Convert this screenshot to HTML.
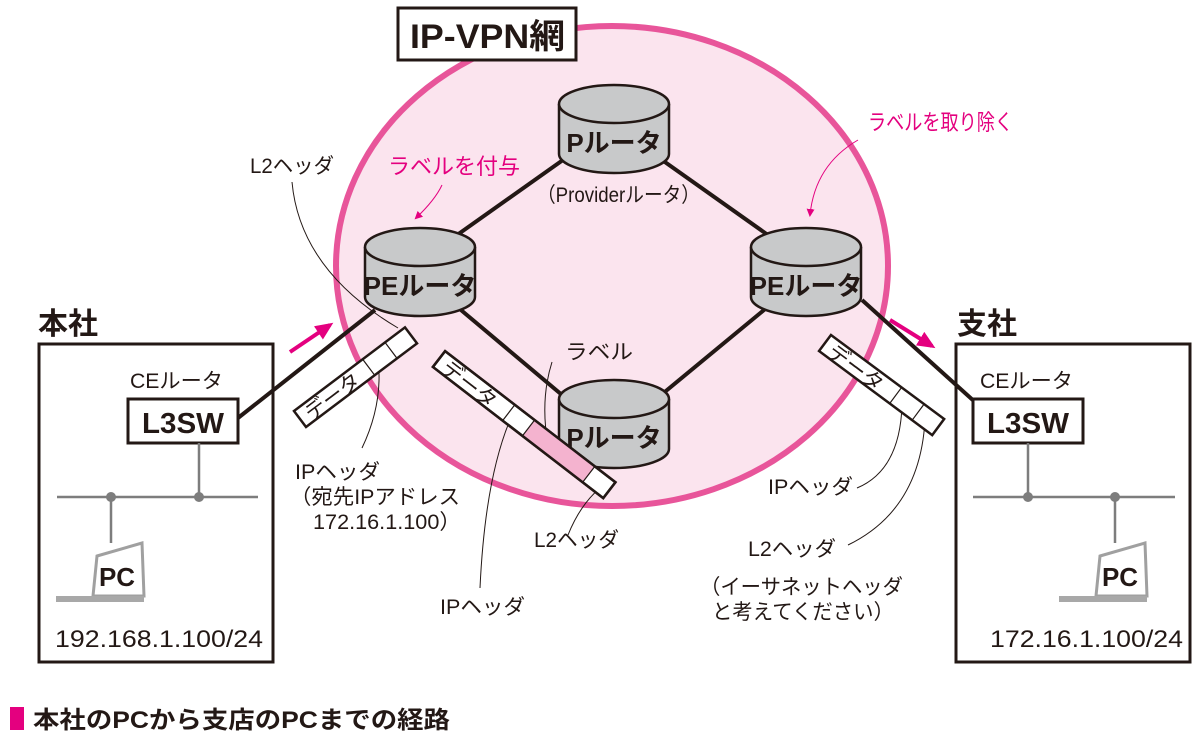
<!DOCTYPE html>
<html><head><meta charset="utf-8"><style>
html,body{margin:0;padding:0;background:#fff}
svg{display:block}
text{font-family:"Liberation Sans","Noto Sans CJK JP",sans-serif;fill:#231815}
.b{font-weight:bold}
</style></head><body>
<svg width="1200" height="743" viewBox="0 0 1200 743" xmlns="http://www.w3.org/2000/svg">
<defs>
<marker id="pa" markerWidth="8" markerHeight="8" refX="6" refY="4" orient="auto" markerUnits="userSpaceOnUse"><path d="M0,0 L8,4 L0,8 Z" fill="#e4007f"/></marker>
<marker id="pb" markerWidth="20" markerHeight="20" refX="14" refY="10" orient="auto" markerUnits="userSpaceOnUse"><path d="M0,2 L18,10 L0,18 Z" fill="#e4007f"/></marker>
<g id="cyl">
<path d="M-55,0 L-55,50 A55,19 0 0 0 55,50 L55,0" fill="#c8c9ca" stroke="#231815" stroke-width="2.5"/>
<ellipse cx="0" cy="0" rx="55" ry="19" fill="#c8c9ca" stroke="#231815" stroke-width="2.5"/>
</g>
</defs>
<ellipse cx="612" cy="266" rx="276" ry="240" fill="#fbe4ee" stroke="#e8559a" stroke-width="6"/>
<rect x="398" y="8" width="178" height="52" fill="#fff" stroke="#231815" stroke-width="3"/>
<text x="410" y="48" font-size="34" class="b" textLength="155" lengthAdjust="spacingAndGlyphs">IP-VPN網</text>

<g stroke="#231815" stroke-width="4">
<line x1="450" y1="240" x2="570" y2="155"/>
<line x1="655" y1="155" x2="775" y2="240"/>
<line x1="455" y1="305" x2="568" y2="400"/>
<line x1="655" y1="400" x2="770" y2="305"/>
<line x1="238" y1="418" x2="375" y2="310"/>
<line x1="862" y1="300" x2="975" y2="402"/>
</g>

<use href="#cyl" x="614" y="104"/>
<use href="#cyl" x="420" y="247"/>
<use href="#cyl" x="806" y="247"/>
<use href="#cyl" x="614" y="399"/>
<text x="614" y="152" font-size="26" class="b" text-anchor="middle">Pルータ</text>
<text x="420" y="295" font-size="26" class="b" text-anchor="middle">PEルータ</text>
<text x="806" y="295" font-size="26" class="b" text-anchor="middle">PEルータ</text>
<text x="614" y="447" font-size="26" class="b" text-anchor="middle">Pルータ</text>
<text x="537" y="202" font-size="21" textLength="163" lengthAdjust="spacingAndGlyphs">（Providerルータ）</text>

<text x="388" y="174" font-size="22" style="fill:#e4007f" textLength="132" lengthAdjust="spacingAndGlyphs">ラベルを付与</text>
<path d="M442,185 Q435,200 416,218" fill="none" stroke="#e4007f" stroke-width="1" marker-end="url(#pa)"/>
<text x="868" y="130" font-size="22" style="fill:#e4007f" textLength="145" lengthAdjust="spacingAndGlyphs">ラベルを取り除く</text>
<path d="M858,140 Q815,165 810,215" fill="none" stroke="#e4007f" stroke-width="1" marker-end="url(#pa)"/>

<line x1="290" y1="352" x2="330" y2="325" stroke="#e4007f" stroke-width="4" marker-end="url(#pb)"/>
<line x1="890" y1="320" x2="932" y2="346" stroke="#e4007f" stroke-width="4" marker-end="url(#pb)"/>

<g fill="none" stroke="#231815" stroke-width="1">
<path d="M292,182 Q300,270 398,328"/>
<path d="M362,448 Q385,400 377,352"/>
<path d="M552,362 Q540,400 548,445"/>
<path d="M480,588 Q485,480 510,420"/>
<path d="M568,535 Q580,505 600,488"/>
<path d="M857,488 Q900,470 902,405"/>
<path d="M848,545 Q920,510 925,420"/>
</g>

<g transform="translate(300,419) rotate(-37)">
<rect x="0" y="-10" width="139" height="20" fill="#fff" stroke="#231815" stroke-width="2.5"/>
<line x1="86" y1="-10" x2="86" y2="10" stroke="#231815" stroke-width="1.2"/>
<line x1="114" y1="-10" x2="114" y2="10" stroke="#231815" stroke-width="1.2"/>
<text x="8" y="9" font-size="21">データ</text>
</g>
<g transform="translate(439,359) rotate(37.6)">
<rect x="0" y="-10" width="215" height="20" fill="#fff" stroke="#231815" stroke-width="2.5"/>
<rect x="113" y="-10" width="76" height="20" fill="#f4b3cf"/>
<rect x="0" y="-10" width="215" height="20" fill="none" stroke="#231815" stroke-width="2.5"/>
<line x1="88" y1="-10" x2="88" y2="10" stroke="#231815" stroke-width="1.2"/>
<line x1="113" y1="-10" x2="113" y2="10" stroke="#231815" stroke-width="1.2"/>
<line x1="189" y1="-10" x2="189" y2="10" stroke="#231815" stroke-width="1.2"/>
<text x="8" y="9" font-size="21">データ</text>
</g>
<g transform="translate(825,343) rotate(36.6)">
<rect x="0" y="-10" width="141" height="20" fill="#fff" stroke="#231815" stroke-width="2.5"/>
<line x1="88" y1="-10" x2="88" y2="10" stroke="#231815" stroke-width="1.2"/>
<line x1="116" y1="-10" x2="116" y2="10" stroke="#231815" stroke-width="1.2"/>
<text x="8" y="9" font-size="21">データ</text>
</g>

<g font-size="21">
<text x="250" y="173" textLength="84" lengthAdjust="spacingAndGlyphs">L2ヘッダ</text>
<text x="295" y="479" textLength="85" lengthAdjust="spacingAndGlyphs">IPヘッダ</text>
<text x="290" y="504" textLength="170" lengthAdjust="spacingAndGlyphs">（宛先IPアドレス</text>
<text x="313" y="529" textLength="148" lengthAdjust="spacingAndGlyphs">172.16.1.100）</text>
<text x="565" y="359" textLength="68" lengthAdjust="spacingAndGlyphs">ラベル</text>
<text x="534" y="547" textLength="85" lengthAdjust="spacingAndGlyphs">L2ヘッダ</text>
<text x="440" y="614" textLength="85" lengthAdjust="spacingAndGlyphs">IPヘッダ</text>
<text x="768" y="494" textLength="85" lengthAdjust="spacingAndGlyphs">IPヘッダ</text>
<text x="748" y="556" textLength="88" lengthAdjust="spacingAndGlyphs">L2ヘッダ</text>
<text x="700" y="594" textLength="203" lengthAdjust="spacingAndGlyphs">（イーサネットヘッダ</text>
<text x="712" y="619" textLength="182" lengthAdjust="spacingAndGlyphs">と考えてください）</text>
</g>

<text x="38" y="334" font-size="30" class="b">本社</text>
<rect x="39" y="344" width="234" height="318" fill="none" stroke="#231815" stroke-width="3"/>
<text x="130" y="388" font-size="21" textLength="93" lengthAdjust="spacingAndGlyphs">CEルータ</text>
<rect x="128" y="399" width="110" height="44" fill="#fff" stroke="#231815" stroke-width="3"/>
<text x="142" y="433" font-size="29" class="b" textLength="82" lengthAdjust="spacingAndGlyphs">L3SW</text>
<g stroke="#7d7d7d" stroke-width="2.5" fill="#7d7d7d">
<line x1="57" y1="497" x2="258" y2="497"/>
<line x1="199" y1="443" x2="199" y2="497"/>
<line x1="111" y1="497" x2="111" y2="543"/>
<circle cx="111" cy="497" r="5" stroke="none"/>
<circle cx="199" cy="497" r="5" stroke="none"/>
</g>
<path d="M97,556 L142,543 L144,596 L93,596 Z" fill="#fff" stroke="#a0a0a0" stroke-width="3"/>
<rect x="56" y="596" width="88" height="6" fill="#a8a8a8"/>
<text x="117" y="586" font-size="26" class="b" text-anchor="middle">PC</text>
<text x="55" y="647" font-size="24" textLength="208" lengthAdjust="spacingAndGlyphs">192.168.1.100/24</text>

<text x="957" y="334" font-size="30" class="b">支社</text>
<rect x="956" y="344" width="234" height="318" fill="none" stroke="#231815" stroke-width="3"/>
<text x="980" y="388" font-size="21" textLength="93" lengthAdjust="spacingAndGlyphs">CEルータ</text>
<rect x="973" y="399" width="110" height="44" fill="#fff" stroke="#231815" stroke-width="3"/>
<text x="987" y="433" font-size="29" class="b" textLength="82" lengthAdjust="spacingAndGlyphs">L3SW</text>
<g stroke="#7d7d7d" stroke-width="2.5" fill="#7d7d7d">
<line x1="973" y1="497" x2="1175" y2="497"/>
<line x1="1028" y1="443" x2="1028" y2="497"/>
<line x1="1115" y1="497" x2="1115" y2="543"/>
<circle cx="1028" cy="497" r="5" stroke="none"/>
<circle cx="1115" cy="497" r="5" stroke="none"/>
</g>
<path d="M1100,556 L1145,543 L1147,596 L1096,596 Z" fill="#fff" stroke="#a0a0a0" stroke-width="3"/>
<rect x="1059" y="596" width="88" height="6" fill="#a8a8a8"/>
<text x="1120" y="586" font-size="26" class="b" text-anchor="middle">PC</text>
<text x="990" y="647" font-size="24" textLength="193" lengthAdjust="spacingAndGlyphs">172.16.1.100/24</text>

<rect x="10" y="707" width="14" height="23" fill="#e4007f"/>
<text x="33" y="728" font-size="24" class="b" textLength="417" lengthAdjust="spacingAndGlyphs">本社のPCから支店のPCまでの経路</text>
</svg>
</body></html>
